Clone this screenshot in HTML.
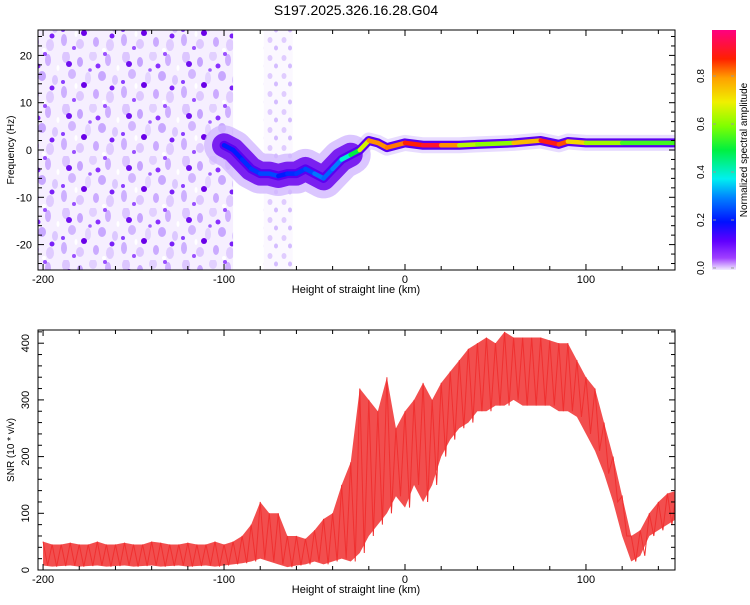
<!DOCTYPE html>
<html><head><meta charset="utf-8">
<style>
body{margin:0;background:#fff;font-family:"Liberation Sans",sans-serif;}
svg text{font-family:"Liberation Sans",sans-serif;fill:#000;}
</style></head>
<body>
<svg id="c" width="750" height="600" xmlns="http://www.w3.org/2000/svg">
<defs>
<linearGradient id="cbg" x1="0" y1="1" x2="0" y2="0">
<stop offset="0" stop-color="#f2ecff"/><stop offset="0.05" stop-color="#a040ff"/>
<stop offset="0.12" stop-color="#6000ff"/><stop offset="0.2" stop-color="#0010ff"/>
<stop offset="0.3" stop-color="#0080ff"/><stop offset="0.38" stop-color="#00f0f0"/>
<stop offset="0.5" stop-color="#00f040"/><stop offset="0.6" stop-color="#80ff00"/>
<stop offset="0.7" stop-color="#f0f000"/><stop offset="0.8" stop-color="#ffa000"/>
<stop offset="0.88" stop-color="#ff2000"/><stop offset="1" stop-color="#ff0080"/>
</linearGradient>
<pattern id="speck" width="60" height="52" patternUnits="userSpaceOnUse">
<rect width="60" height="52" fill="#f6efff"/>
<ellipse cx="6" cy="5" rx="4" ry="6" fill="#dcc6ff"/>
<ellipse cx="20" cy="10" rx="3" ry="5" fill="#c7a4ff"/>
<ellipse cx="33" cy="4" rx="4" ry="5" fill="#e2d0ff"/>
<ellipse cx="48" cy="8" rx="3" ry="6" fill="#cfb0ff"/>
<ellipse cx="12" cy="22" rx="4" ry="5" fill="#d2b6ff"/>
<ellipse cx="28" cy="26" rx="3" ry="6" fill="#e4d4ff"/>
<ellipse cx="42" cy="24" rx="4" ry="5" fill="#c8a8ff"/>
<ellipse cx="55" cy="28" rx="3" ry="5" fill="#dcc8ff"/>
<ellipse cx="4" cy="40" rx="3" ry="6" fill="#cdb0ff"/>
<ellipse cx="20" cy="44" rx="4" ry="5" fill="#dec8ff"/>
<ellipse cx="36" cy="42" rx="3" ry="5" fill="#cbaaff"/>
<ellipse cx="50" cy="45" rx="4" ry="6" fill="#e0ccff"/>
<circle cx="9" cy="12" r="3" fill="#7010f0"/>
<circle cx="38" cy="14" r="2.5" fill="#8a30ff"/>
<circle cx="24" cy="33" r="3" fill="#6a00e8"/>
<circle cx="52" cy="36" r="2.5" fill="#7a20f8"/>
<circle cx="14" cy="48" r="2" fill="#9a50ff"/>
<circle cx="45" cy="2" r="2" fill="#9a50ff"/>
<circle cx="30" cy="18" r="1.8" fill="#a060ff"/>
<circle cx="3" cy="30" r="2" fill="#8a40ff"/>
<ellipse cx="58" cy="16" rx="1.5" ry="3" fill="#fff"/>
<ellipse cx="16" cy="34" rx="1.5" ry="3" fill="#fff"/>
<ellipse cx="44" cy="50" rx="2" ry="2" fill="#fff"/>
</pattern>
<pattern id="speck2" width="14" height="18" patternUnits="userSpaceOnUse">
<rect width="14" height="18" fill="#fbf8ff"/>
<ellipse cx="4" cy="4" rx="2.5" ry="3" fill="#e0ccff"/>
<ellipse cx="10" cy="12" rx="2" ry="2.5" fill="#d4bcff"/>
</pattern>
<clipPath id="clipTop"><rect x="38" y="30" width="637" height="240"/></clipPath>
<clipPath id="clipBot"><rect x="38" y="330" width="637" height="240"/></clipPath>
</defs>
<text x="356" y="15" font-size="14" text-anchor="middle">S197.2025.326.16.28.G04</text>
<g id="topPanel"></g>
<g id="botPanel"></g>
<g id="cbPanel"></g>
</svg>
<script>
// ---- data ----
const trackKm   = [-100,-95,-90,-85,-80,-75,-70,-65,-60,-55,-50,-45,-40,-35,-30,-25,-20,-15,-10,0,10,20,30,40,60,75,85,90,100,120,150];
const trackFreq = [1,0,-2,-4,-5,-5,-5.5,-5,-5,-4,-5,-6,-4,-2,-1,0,2,1.5,0.5,1.5,1,1,1,1.2,1.5,2,1.2,1.8,1.5,1.5,1.5];
const trackAmp  = [0.2,0.22,0.2,0.25,0.22,0.28,0.22,0.2,0.25,0.22,0.28,0.3,0.25,0.35,0.45,0.55,0.8,0.82,0.8,0.85,0.92,0.92,0.7,0.6,0.62,0.92,0.88,0.82,0.65,0.6,0.5];
const snrKm   = [-200,-195,-190,-185,-180,-175,-170,-165,-160,-155,-150,-145,-140,-135,-130,-125,-120,-115,-110,-105,-100,-95,-90,-85,-80,-75,-70,-65,-60,-55,-50,-45,-40,-35,-30,-25,-20,-15,-10,-5,0,5,10,15,20,25,30,35,40,45,50,55,60,65,70,75,80,85,90,95,100,105,110,115,120,125,130,135,140,145,150];
const snrHigh = [50,45,45,48,45,45,50,45,45,48,45,45,50,48,45,45,48,45,45,50,45,50,60,80,120,100,100,60,60,55,70,90,100,150,190,320,300,280,340,250,280,300,330,300,330,350,370,390,400,410,400,420,410,410,410,410,405,400,400,370,340,320,260,200,130,60,70,100,120,135,140];
const snrLow  = [8,6,7,8,6,7,8,6,7,8,6,7,8,6,7,8,6,7,8,6,8,10,12,15,20,15,10,5,8,10,15,10,15,20,15,30,60,80,100,130,110,150,120,150,200,230,250,260,280,280,290,290,300,290,290,290,290,280,280,270,240,210,170,120,60,15,25,60,70,80,90];
const xTicks = [-200,-100,0,100];
const fTicks = [-20,-10,0,10,20];
const sTicks = [0,100,200,300,400];
const cTicks = [0,0.2,0.4,0.6,0.8];

// ---- axes ----
const X0=38,X1=675, kmMin=-202.8, kmMax=149.2;
const xS = k => X0 + (k-kmMin)/(kmMax-kmMin)*(X1-X0);
const fS = f => 150 - f*4.73;
const sS = s => 570 - s*0.567;
const cS = v => 268 - v*240;
const NS="http://www.w3.org/2000/svg";
function mk(tag, attrs, parent){const e=document.createElementNS(NS,tag);for(const k in attrs)e.setAttribute(k,attrs[k]);parent.appendChild(e);return e;}
function cmap(v){const st=[[0,[242,236,255]],[0.05,[160,64,255]],[0.12,[96,0,255]],[0.2,[0,16,255]],[0.3,[0,128,255]],[0.38,[0,240,240]],[0.5,[0,240,64]],[0.6,[128,255,0]],[0.7,[240,240,0]],[0.8,[255,160,0]],[0.88,[255,32,0]],[1,[255,0,128]]];
for(let i=1;i<st.length;i++){if(v<=st[i][0]){const t=(v-st[i-1][0])/(st[i][0]-st[i-1][0]);const a=st[i-1][1],b=st[i][1];return `rgb(${a.map((c,j)=>Math.round(c+(b[j]-c)*t)).join(',')})`;}}return 'rgb(255,0,128)';}

const topG=document.getElementById('topPanel'), botG=document.getElementById('botPanel'), cbG=document.getElementById('cbPanel');

// ---- top panel ----
const gT=mk('g',{'clip-path':'url(#clipTop)'},topG);
const noise=mk('rect',{x:X0,y:30,width:xS(-95)-X0,height:240,fill:'url(#speck)'},gT);


const band=mk('rect',{x:xS(-78),y:30,width:xS(-62)-xS(-78),height:240,fill:'url(#speck2)'},gT);


let pts=trackKm.map((k,i)=>xS(k)+','+fS(trackFreq[i])).join(' ');
let ptsL=trackKm.filter(k=>k<=-30).map(k=>{const i=trackKm.indexOf(k);return xS(k)+','+fS(trackFreq[i]);}).join(' ');
mk('polyline',{points:pts,fill:'none',stroke:'#e8dcff','stroke-width':16,'stroke-linejoin':'round'},gT);
mk('polyline',{points:ptsL,fill:'none',stroke:'#d2b8ff','stroke-width':40,'stroke-linejoin':'round','stroke-linecap':'round','stroke-opacity':0.8},gT);
mk('polyline',{points:ptsL,fill:'none',stroke:'#7a20f0','stroke-width':24,'stroke-linejoin':'round','stroke-linecap':'round'},gT);
mk('polyline',{points:pts,fill:'none',stroke:'#5a00f0','stroke-width':9,'stroke-linejoin':'round','stroke-linecap':'round'},gT);
for(let i=0;i<trackKm.length-1;i++){
  const seg=mk('line',{x1:xS(trackKm[i]),y1:fS(trackFreq[i]),x2:xS(trackKm[i+1]),y2:fS(trackFreq[i+1]),stroke:cmap((trackAmp[i]+trackAmp[i+1])/2),'stroke-width':4.5,'stroke-linecap':'round'},gT);
  
  
}
mk('rect',{x:X0,y:30,width:X1-X0,height:240,fill:'none',stroke:'#000','stroke-width':1},topG);

// ---- bottom panel ----
const gB=mk('g',{'clip-path':'url(#clipBot)'},botG);
let up=snrKm.map((k,i)=>xS(k)+','+sS(snrHigh[i]));
let dn=snrKm.map((k,i)=>xS(k)+','+sS(snrLow[i])).reverse();
const area=mk('polygon',{points:up.concat(dn).join(' '),fill:'#f03535','fill-opacity':0.88},gB);


let zz=[];
snrKm.forEach((k,i)=>{zz.push(xS(k)+','+sS(snrHigh[i]));zz.push(xS(k+2.5)+','+sS(snrLow[i]));});
const line=mk('polyline',{points:zz.join(' '),fill:'none',stroke:'#f03030','stroke-width':1},gB);


mk('rect',{x:X0,y:330,width:X1-X0,height:240,fill:'none',stroke:'#000','stroke-width':1},botG);

// ---- ticks ----
function xAxis(g,yTop,yBot){
  for(let k=-200;k<=140;k+=20){const x=xS(k),L=(k%100===0)?6:4;
    mk('line',{x1:x,y1:yBot,x2:x,y2:yBot-L,stroke:'#000'},g);mk('line',{x1:x,y1:yTop,x2:x,y2:yTop+L,stroke:'#000'},g);}
  xTicks.forEach(k=>{const t=mk('text',{x:xS(k),y:yBot+13,'font-size':11,'text-anchor':'middle'},g);t.textContent=k;
    
    });
  const tl=mk('text',{x:356,y:yBot+23,'font-size':11,'text-anchor':'middle'},g);tl.textContent='Height of straight line (km)';
  
  
}
xAxis(topG,30,270);xAxis(botG,330,570);
for(let f=-24;f<=24;f+=2){const y=fS(f),L=(f%10===0)?6:4;
  mk('line',{x1:X0,y1:y,x2:X0+L,y2:y,stroke:'#000'},topG);mk('line',{x1:X1,y1:y,x2:X1-L,y2:y,stroke:'#000'},topG);}
fTicks.forEach(f=>{const t=mk('text',{x:32,y:fS(f)+4,'font-size':11,'text-anchor':'end'},topG);t.textContent=f;
  
  });
let yt=mk('text',{x:14,y:150,'font-size':10,'text-anchor':'middle',transform:'rotate(-90 14 150)'},topG);yt.textContent='Frequency (Hz)';


for(let s=0;s<=420;s+=20){const y=sS(s),L=(s%100===0)?6:4;
  mk('line',{x1:X0,y1:y,x2:X0+L,y2:y,stroke:'#000'},botG);mk('line',{x1:X1,y1:y,x2:X1-L,y2:y,stroke:'#000'},botG);}
sTicks.forEach(s=>{const t=mk('text',{x:29,y:sS(s),'font-size':11,'text-anchor':'middle',transform:`rotate(-90 29 ${sS(s)})`},botG);t.textContent=s;
  
  });
let ys=mk('text',{x:14,y:450,'font-size':10,'text-anchor':'middle',transform:'rotate(-90 14 450)'},botG);ys.textContent='SNR (10 * v/v)';



// ---- colorbar ----
mk('rect',{x:712,y:30,width:24,height:240,fill:'url(#cbg)'},cbG);
cTicks.forEach(v=>{const y=cS(v);mk('line',{x1:713,y1:y,x2:716,y2:y,stroke:'#999'},cbG);mk('line',{x1:731,y1:y,x2:734,y2:y,stroke:'#999'},cbG);
  const t=mk('text',{x:704,y:y,'font-size':10,'text-anchor':'middle',transform:`rotate(-90 704 ${y})`},cbG);t.textContent=v.toFixed(1);
  
  });
let ct=mk('text',{x:747,y:150,'font-size':10,'text-anchor':'middle',transform:'rotate(-90 747 150)'},cbG);ct.textContent='Normalized spectral amplitude';


</script>
</body></html>
